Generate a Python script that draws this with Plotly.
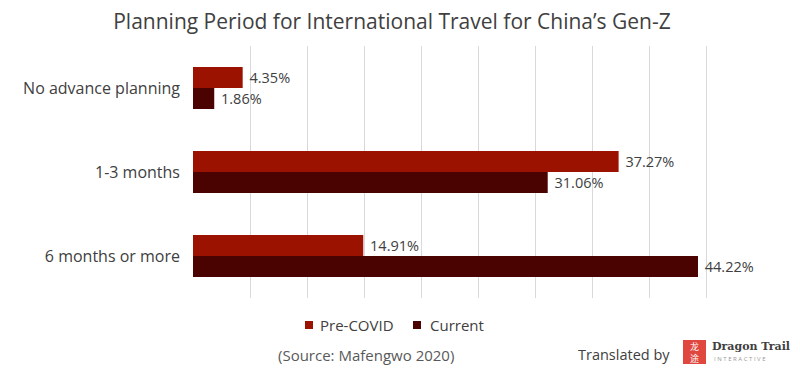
import plotly.graph_objects as go

categories = ["No advance planning", "1-3 months", "6 months or more"]
pre_covid = [4.35, 37.27, 14.91]
current = [1.86, 31.06, 44.22]
series_names = ["Pre-COVID", "Current"]
colors = ["#9B1200", "#4A0300"]

FONT = "Open Sans"

fig = go.Figure()
for name, vals, col in zip(series_names, [pre_covid, current], colors):
    fig.add_trace(go.Bar(
        y=categories, x=vals, name=name, orientation="h",
        marker=dict(color=col, line=dict(width=0)),
        text=[f" {v:.2f}%" for v in vals], textposition="outside",
        textfont=dict(family=FONT, size=14.5, color="#404040"),
        cliponaxis=False, showlegend=False,
    ))

fig.update_layout(
    width=800, height=370,
    margin=dict(l=193, r=36, t=46, b=72),
    paper_bgcolor="white", plot_bgcolor="white",
    barmode="group", bargap=0.5, bargroupgap=0,
    title=dict(text="Planning Period for International Travel for China’s Gen-Z",
               x=392 / 800, xanchor="center", y=1 - 22/370, yanchor="middle",
               font=dict(family=FONT, size=21, color="#404040")),
    xaxis=dict(range=[0, 50], dtick=5, showgrid=True, gridcolor="#D9D9D9",
               gridwidth=1, showticklabels=False, zeroline=False, showline=False,
               fixedrange=True),
    yaxis=dict(autorange="reversed", showgrid=False, showline=False,
               ticks="", tickfont=dict(family=FONT, size=16, color="#404040"),
               ticklabelstandoff=12),
)

def px(x):
    return (x - 193) / 571

def py(y):
    return (298 - y) / 252

# legend: coloured squares + labels
legend_items = [(305, 318), (413, 428)]
for (sx, tx), name, col in zip(legend_items, series_names, colors):
    fig.add_shape(type="rect", xref="paper", yref="paper",
                  x0=px(sx), x1=px(sx + 8), y0=py(329), y1=py(321),
                  fillcolor=col, line=dict(width=0))
    fig.add_annotation(text=name, xref="paper", yref="paper",
                       x=px(tx), y=py(325), xanchor="left", yanchor="middle",
                       showarrow=False, font=dict(family=FONT, size=15, color="#404040"))

fig.add_annotation(text="(Source: Mafengwo 2020)", xref="paper", yref="paper",
                   x=px(366), y=py(355), xanchor="center", yanchor="middle",
                   showarrow=False, font=dict(family=FONT, size=15, color="#595959"))
fig.add_annotation(text="Translated by", xref="paper", yref="paper",
                   x=px(672), y=py(354), xanchor="right", yanchor="middle",
                   showarrow=False, font=dict(family=FONT, size=14.5, color="#404040"))
# logo
fig.add_shape(type="rect", xref="paper", yref="paper",
              x0=px(683), x1=px(706), y0=py(364), y1=py(340),
              fillcolor="#E0473E", line=dict(width=0))
fig.add_annotation(text="龙<br>途", xref="paper", yref="paper",
                   x=px(694.5), y=py(352), xanchor="center", yanchor="middle",
                   showarrow=False, font=dict(family="Noto Sans CJK SC", size=9, color="white"))
fig.add_annotation(text="<b>Dragon Trail</b>", xref="paper", yref="paper",
                   x=px(710), y=py(346), xanchor="left", yanchor="middle",
                   showarrow=False, font=dict(family="DejaVu Serif", size=11, color="#404040"))
fig.add_annotation(text="I N T E R A C T I V E", xref="paper", yref="paper",
                   x=px(712), y=py(359), xanchor="left", yanchor="middle",
                   showarrow=False, font=dict(family=FONT, size=6, color="#999999"))

fig.write_html("out.html")
